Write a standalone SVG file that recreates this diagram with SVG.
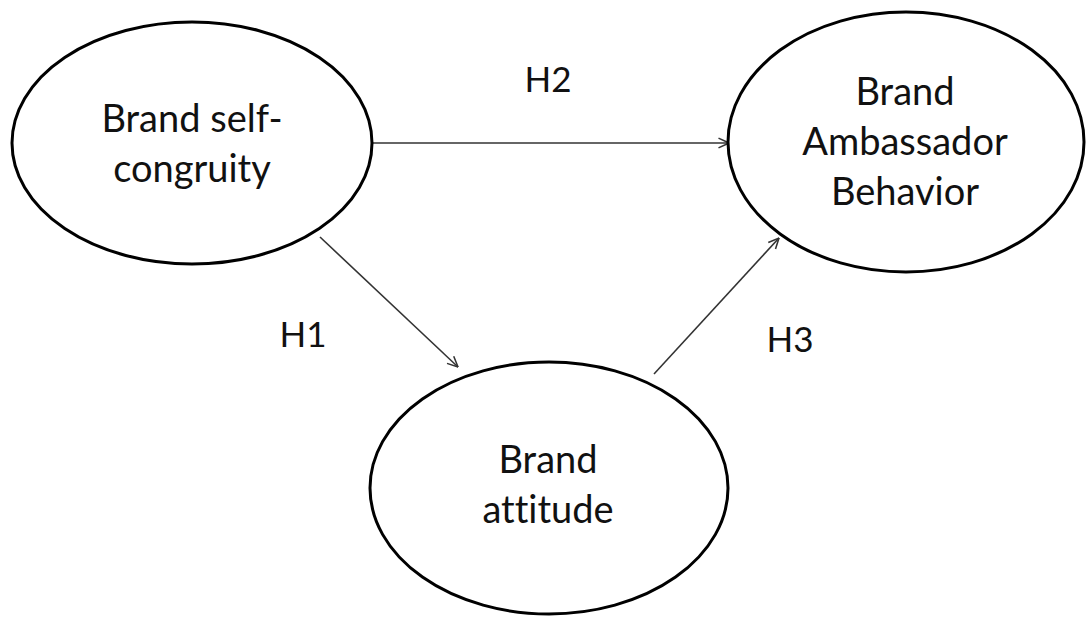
<svg xmlns="http://www.w3.org/2000/svg" width="1086" height="619" viewBox="0 0 1086 619">
<style>
.node{fill:#fff;stroke:#000;stroke-width:3}
.lbl{font-family:Lato,"Open Sans","Liberation Sans",sans-serif;font-size:35px;fill:#111;text-anchor:middle;font-variant-ligatures:none}
.nt{font-size:38px}
.edge{stroke:#333;stroke-width:1.6;fill:none;marker-end:url(#arr)}
</style>
<defs>
<marker id="arr" viewBox="0 0 20 20" refX="19" refY="10" markerWidth="14" markerHeight="14" markerUnits="userSpaceOnUse" orient="auto">
<path d="M4,3 L19,10 L4,17" fill="none" stroke="#333" stroke-width="2.2"/>
</marker>
</defs>
<rect width="1086" height="619" fill="#fff"/>
<g id="connectors">
<line class="edge" x1="373" y1="143" x2="729" y2="143"/>
<line class="edge" x1="320" y1="237" x2="458" y2="367"/>
<line class="edge" x1="654" y1="374" x2="779" y2="238"/>
</g>
<g id="self-congruity">
<ellipse class="node" cx="192" cy="143" rx="180" ry="121"/>
<text class="lbl nt" x="192" y="132">Brand self-</text>
<text class="lbl nt" x="192" y="182">congruity</text>
</g>
<g id="ambassador">
<ellipse class="node" cx="906" cy="142" rx="178" ry="130"/>
<text class="lbl nt" x="905" y="105">Brand</text>
<text class="lbl nt" x="905" y="155">Ambassador</text>
<text class="lbl nt" x="905" y="205">Behavior</text>
</g>
<g id="attitude">
<ellipse class="node" cx="549" cy="488" rx="179" ry="126"/>
<text class="lbl nt" x="548" y="473">Brand</text>
<text class="lbl nt" x="548" y="523">attitude</text>
</g>
<g id="labels">
<text class="lbl" x="548" y="92">H2</text>
<text class="lbl" x="303" y="347">H1</text>
<text class="lbl" x="790" y="352">H3</text>
</g>
</svg>
